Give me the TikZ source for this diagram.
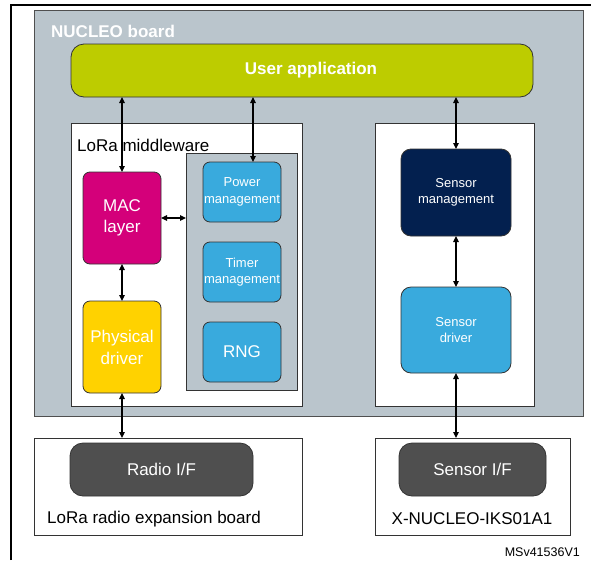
\documentclass[tikz,border=0pt]{standalone}
\usepackage{fontspec}
\setmainfont{Liberation Sans}
\usetikzlibrary{arrows.meta}
\definecolor{boardgray}{HTML}{BAC5CC}
\definecolor{lime}{HTML}{BDCC00}
\definecolor{magentaST}{HTML}{D4007A}
\definecolor{yellowST}{HTML}{FFD200}
\definecolor{lightblue}{HTML}{39AADD}
\definecolor{navy}{HTML}{03204F}
\definecolor{darkgrayST}{HTML}{4F4F4F}
\definecolor{edge}{HTML}{333333}
\tikzset{
  box/.style={draw=edge, line width=0.8pt, inner sep=0pt, outer sep=0pt, align=center},
  blk/.style={box, text=white, rounded corners=7pt},
  big/.style={font=\fontsize{17}{22}\selectfont},
  small/.style={font=\fontsize{13}{16.5}\selectfont},
  arr/.style={line width=1.2pt, {Triangle[length=6pt,width=5.5pt]}-{Triangle[length=6pt,width=5.5pt]}},
}
\begin{document}
\begin{tikzpicture}[x=1pt,y=-1pt]
\useasboundingbox (0,0) rectangle (591,560);
% outer frame lines
\draw[line width=2pt] (11,560) -- (11,5) -- (591,5);
% NUCLEO board
\node[box, fill=boardgray, draw=darkgrayST, minimum width=549pt, minimum height=406pt] (board) at (308.5,213) {};
\node[anchor=west, text=white, font=\fontsize{17}{20}\selectfont\bfseries, inner sep=0pt] (boardlbl) at (51,31) {NUCLEO board};
% user application
\node[box, fill=lime, rounded corners=13pt, minimum width=462pt, minimum height=53pt] (userapp) at (302,70.5) {};
\node[inner sep=0pt, text=white, font=\fontsize{17}{20}\selectfont\bfseries] (userlbl) at (311,70) {User application};
% LoRa middleware
\node[box, fill=white, minimum width=231pt, minimum height=283pt] (lora) at (186.5,264.5) {};
\node[anchor=west, inner sep=0pt, big] (loralbl) at (77,145) {LoRa middleware};
\node[blk, big, fill=magentaST, minimum width=78pt, minimum height=92pt] (mac) at (122,218) {MAC\\[-1pt]layer};
\node[blk, big, fill=yellowST, minimum width=78pt, minimum height=92pt] (phys) at (122,347) {Physical\\driver};
\node[box, fill=boardgray, minimum width=111pt, minimum height=237pt] (utils) at (241.5,271.5) {};
\node[blk, small, fill=lightblue, minimum width=78pt, minimum height=60pt] (power) at (242,192) {Power\\management};
\node[blk, small, fill=lightblue, minimum width=78pt, minimum height=60pt] (timer) at (242,272) {Timer\\management};
\node[blk, big, fill=lightblue, minimum width=78pt, minimum height=60pt] (rng) at (242,352) {RNG};
% sensor side
\node[box, fill=white, minimum width=159pt, minimum height=283pt] (sensbox) at (454.5,264.5) {};
\node[blk, small, fill=navy, rounded corners=10pt, minimum width=110pt, minimum height=87pt] (sensmgmt) at (456,192.5) {Sensor\\management};
\node[blk, small, fill=lightblue, rounded corners=10pt, minimum width=110pt, minimum height=86pt] (sensdrv) at (456,330) {Sensor\\driver};
% bottom boards
\node[box, fill=white, minimum width=268pt, minimum height=97pt] (radiobox) at (168,486.5) {};
\node[blk, big, fill=darkgrayST, rounded corners=13pt, minimum width=183pt, minimum height=53pt] (radioif) at (161.5,469.5) {Radio I/F};
\node[anchor=west, inner sep=0pt, big] (radiolbl) at (47,519) {LoRa radio expansion board};
\node[box, fill=white, minimum width=195pt, minimum height=97pt] (xbox) at (472.5,486.5) {};
\node[blk, big, fill=darkgrayST, rounded corners=13pt, minimum width=147pt, minimum height=53pt] (sensif) at (472.5,469.5) {Sensor I/F};
\node[inner sep=0pt, big] (xlbl) at (472,519) {X-NUCLEO-IKS01A1};
\node[anchor=east, inner sep=0pt, font=\fontsize{12.5}{15}\selectfont] (ref) at (580,552) {MSv41536V1};
% connectors
\coordinate (pmx) at (253,0);
\draw[arr] (userapp.south -| mac.north) -- (mac.north);
\draw[arr] (userapp.south -| pmx) -- (power.north -| pmx);
\draw[arr] (userapp.south -| sensmgmt.north) -- (sensmgmt.north);
\draw[arr] (mac.east) -- (mac.east -| utils.west);
\draw[arr] (mac.south) -- (phys.north);
\draw[arr] (sensmgmt.south) -- (sensdrv.north);
\draw[arr] (phys.south) -- (phys.south |- radiobox.north);
\draw[arr] (sensdrv.south) -- (sensdrv.south |- xbox.north);
\end{tikzpicture}
\end{document}
